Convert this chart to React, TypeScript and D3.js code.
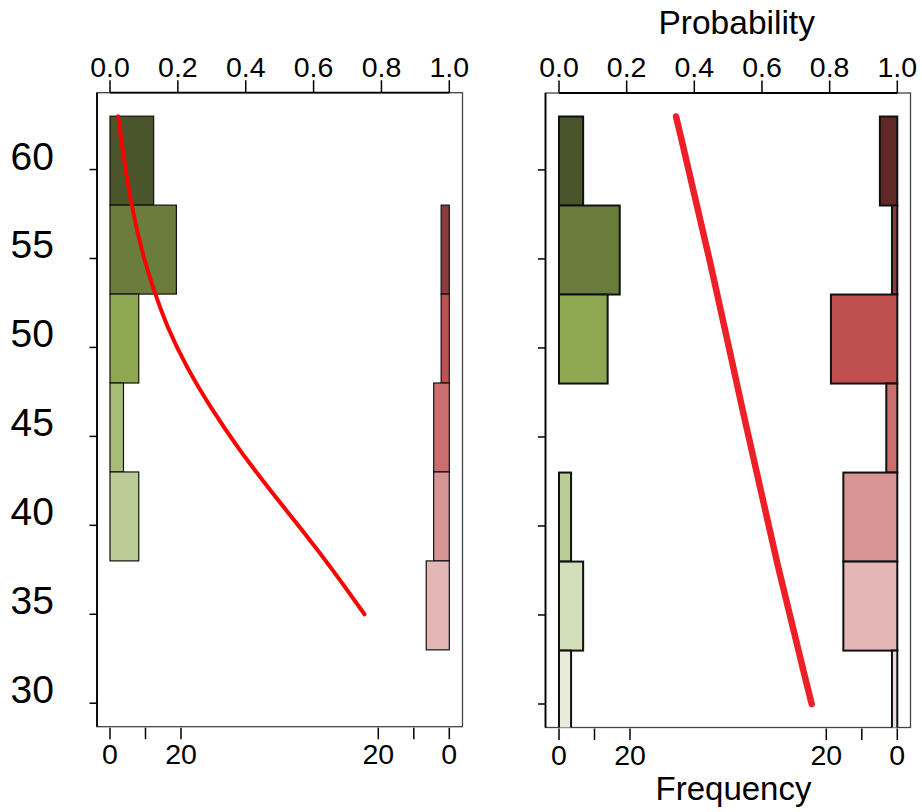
import React from "react";
import * as d3 from "d3";

// ---- data ----
const binLower = [58, 53, 48, 43, 38, 33, 28]; // bin width 5
const binWidth = 5;
const greenColors = ["#4b552b", "#6a7d3c", "#8ea851", "#a8bb77", "#bccc96", "#d3deba", "#e6ebdc"];
const redColors = ["#612828", "#8e3b3b", "#c0504f", "#cc6e6e", "#d89494", "#e4b7b7", "#efdcdc"];

// left panel frequencies (by bin, null = no bar)
const leftGreen = [12.3, 18.7, 8.1, 3.8, 8.1, null, null];
const leftRed = [null, 2.3, 2.3, 4.4, 4.4, 6.5, null];
// right panel frequencies
const rightGreen = [6.8, 17.1, 13.7, 0, 3.4, 6.8, 3.4];
const rightRed = [4.9, 1.5, 18.7, 3.1, 15.2, 15.2, 1.5];

// fitted curves: [age, probability]
const leftCurveAge = [63, 60.15, 57.71, 55.09, 53.12, 51.16, 48.91, 46.66, 44.23, 41.8, 39.55, 37.67, 35.0];
const leftCurveProb = [0.024, 0.044, 0.066, 0.098, 0.131, 0.168, 0.225, 0.295, 0.381, 0.479, 0.574, 0.65, 0.75];
const rightCurveAge = [63, 55.0, 46.1, 37.7, 30.0];
const rightCurveProb = [0.346, 0.446, 0.547, 0.646, 0.747];

const yTicks = [30, 35, 40, 45, 50, 55, 60];
const probTicks = [0, 0.2, 0.4, 0.6, 0.8, 1.0];
const freqTicks = [0, 10, 20];
const freqLabels = ["0", "", "20"];

const FONT = "'Liberation Sans', Arial, Helvetica, sans-serif";

type PanelProps = {
  x0: number;
  x1: number;
  px0: number;
  px1: number;
  top: number;
  bottom: number;
  green: (number | null)[];
  red: (number | null)[];
  curveAge: number[];
  curveProb: number[];
  lineWidth: number;
  lineColor: string;
  barStroke: number;
  showYLabels: boolean;
  id: string;
};

function Panel(p: PanelProps) {
  const y = d3.scaleLinear().domain([28.68, 64.32]).range([p.bottom, p.top]);
  const prob = d3.scaleLinear().domain([0, 1]).range([p.px0, p.px1]);
  const pxPerCount = 3.55;
  const fL = d3.scaleLinear().domain([0, 20]).range([p.px0, p.px0 + 20 * pxPerCount]);
  const fR = d3.scaleLinear().domain([0, 20]).range([p.px1, p.px1 - 20 * pxPerCount]);

  const pts: [number, number][] = p.curveAge.map((a, i) => [a, p.curveProb[i]]);
  const line = d3
    .line<[number, number]>()
    .x((d) => prob(d[1]))
    .y((d) => y(d[0]))
    .curve(d3.curveBasis);

  return (
    <g>
      <defs>
        <clipPath id={p.id}>
          <rect x={p.x0} y={p.top} width={p.x1 - p.x0} height={p.bottom - p.top} />
        </clipPath>
      </defs>
      {/* box */}
      <rect x={p.x0} y={p.top} width={p.x1 - p.x0} height={p.bottom - p.top} fill="white" stroke="#444" strokeWidth={1.3} />
      <g clipPath={`url(#${p.id})`}>
        {p.green.map((v, i) =>
          v === null || v === 0 ? null : (
            <rect
              key={"g" + i}
              x={fL(0)}
              y={y(binLower[i] + binWidth)}
              width={fL(v) - fL(0)}
              height={y(binLower[i]) - y(binLower[i] + binWidth)}
              fill={greenColors[i]}
              stroke="#111"
              strokeWidth={p.barStroke}
            />
          )
        )}
        {p.red.map((v, i) =>
          v === null || v === 0 ? null : (
            <rect
              key={"r" + i}
              x={fR(v)}
              y={y(binLower[i] + binWidth)}
              width={fR(0) - fR(v)}
              height={y(binLower[i]) - y(binLower[i] + binWidth)}
              fill={redColors[i]}
              stroke="#111"
              strokeWidth={p.barStroke}
            />
          )
        )}
        <path d={line(pts) || ""} fill="none" stroke={p.lineColor} strokeWidth={p.lineWidth} strokeLinecap="round" />
      </g>
      {/* left axis */}
      <line x1={p.x0} x2={p.x0} y1={p.top} y2={p.bottom} stroke="#000" strokeWidth={1.8} />
      {yTicks.map((t) => (
        <g key={"y" + t}>
          <line x1={p.x0 - 7.5} x2={p.x0} y1={y(t)} y2={y(t)} stroke="#000" strokeWidth={1.5} />
          {p.showYLabels && (
            <text x={p.x0 - 43} y={y(t)} textAnchor="end" fontSize={39} fontFamily={FONT} fill="#000">
              {t}
            </text>
          )}
        </g>
      ))}
      {/* top axis */}
      <line x1={prob(0)} x2={prob(1)} y1={p.top} y2={p.top} stroke="#000" strokeWidth={1.8} />
      {probTicks.map((t) => (
        <g key={"p" + t}>
          <line x1={prob(t)} x2={prob(t)} y1={p.top - 12.5} y2={p.top} stroke="#000" strokeWidth={1.5} />
          <text x={prob(t)} y={p.top - 16} textAnchor="middle" fontSize={28.5} fontFamily={FONT} fill="#000">
            {t.toFixed(1)}
          </text>
        </g>
      ))}
      {/* bottom ticks */}
      {freqTicks.map((t, i) => (
        <g key={"f" + t}>
          <line x1={fL(t)} x2={fL(t)} y1={p.bottom + 1} y2={p.bottom + 12.5} stroke="#000" strokeWidth={1.5} />
          <line x1={fR(t)} x2={fR(t)} y1={p.bottom + 1} y2={p.bottom + 12.5} stroke="#000" strokeWidth={1.5} />
          {freqLabels[i] && (
            <>
              <text x={fL(t)} y={p.bottom + 37.5} textAnchor="middle" fontSize={28.5} fontFamily={FONT} fill="#000">
                {freqLabels[i]}
              </text>
              <text x={fR(t)} y={p.bottom + 37.5} textAnchor="middle" fontSize={28.5} fontFamily={FONT} fill="#000">
                {freqLabels[i]}
              </text>
            </>
          )}
        </g>
      ))}
    </g>
  );
}

export default function App() {
  return (
    <svg
      width={922}
      height={812}
      viewBox="0 0 922 812"
      style={{ position: "absolute", left: 0, top: 0, background: "white" }}
    >
      <rect x={0} y={0} width={922} height={812} fill="white" />
      <Panel
        id="clipL"
        x0={97}
        x1={462.5}
        px0={110}
        px1={449.3}
        top={92.7}
        bottom={726.7}
        green={leftGreen}
        red={leftRed}
        curveAge={leftCurveAge}
        curveProb={leftCurveProb}
        lineWidth={4}
        lineColor="#ff0000"
        barStroke={1.2}
        showYLabels={true}
      />
      <Panel
        id="clipR"
        x0={545.5}
        x1={910.5}
        px0={559}
        px1={897.3}
        top={93}
        bottom={727.5}
        green={rightGreen}
        red={rightRed}
        curveAge={rightCurveAge}
        curveProb={rightCurveProb}
        lineWidth={6.5}
        lineColor="#ee2027"
        barStroke={2}
        showYLabels={false}
      />
      <text x={736.7} y={33.5} textAnchor="middle" fontSize={33.5} fontFamily={FONT} fill="#000">
        Probability
      </text>
      <text x={733.5} y={799.5} textAnchor="middle" fontSize={33} fontFamily={FONT} fill="#000">
        Frequency
      </text>
    </svg>
  );
}
